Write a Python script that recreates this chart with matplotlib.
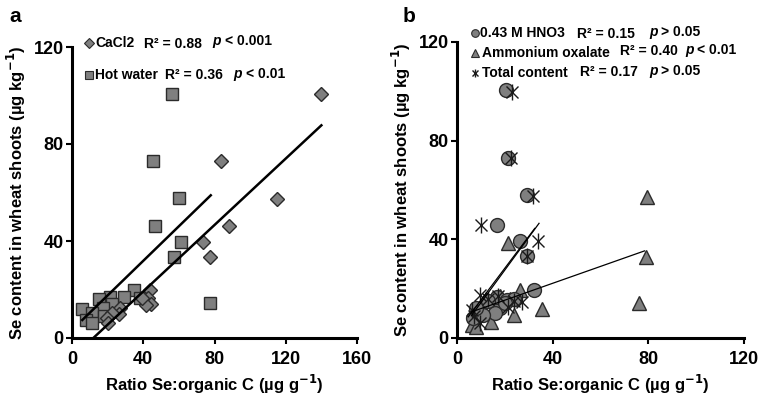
import matplotlib
matplotlib.use("Agg")
import matplotlib.pyplot as plt
import numpy as np

plt.rcParams['font.family'] = ['Liberation Sans', 'DejaVu Sans']
plt.rcParams['font.weight'] = 'bold'
plt.rcParams['mathtext.default'] = 'bf'

# ---------------- Panel a data ----------------
cacl2_x = [139.9, 83.5, 115.3, 88.4, 73.8, 77.7, 43.8, 42.9, 44.4, 41.6, 39.1, 27.0, 26.6, 22.3, 19.5, 20.4]
cacl2_y = [100.7, 73.0, 57.5, 46.0, 39.5, 33.5, 19.8, 16.7, 14.0, 13.6, 16.3, 12.5, 9.7, 10.2, 8.1, 6.0]
hot_x = [56.2, 45.7, 60.3, 46.6, 61.2, 57.3, 77.5, 35.0, 29.4, 21.3, 15.3, 22.3, 17.6, 5.6, 11.2, 18.1, 7.9, 11.4, 38.2]
hot_y = [100.7, 73.0, 57.7, 46.2, 39.4, 33.5, 14.4, 19.8, 17.0, 17.0, 15.9, 13.9, 12.2, 11.8, 10.4, 9.0, 7.4, 6.3, 16.7]
# fitted lines: slope, intercept, x-start, x-end
cacl2_fit = [0.685, -8.2, 12.0, 140.0]
hot_fit = [0.713, 3.3, 5.8, 77.9]

# ---------------- Panel b data ----------------
hno3_x = [20.4, 21.2, 29.2, 16.9, 26.4, 29.4, 32.3, 18.0, 15.9, 6.8, 11.0, 16.8, 21.0, 24.0, 13.0, 8.0, 20.0]
hno3_y = [100.4, 72.8, 57.9, 46.0, 39.3, 33.2, 19.4, 12.0, 10.0, 8.0, 9.3, 16.5, 15.5, 16.0, 15.0, 12.0, 14.0]
oxa_x = [79.4, 79.1, 76.2, 35.4, 21.5, 26.4, 23.8, 14.1, 6.1, 7.9, 18.0, 12.0, 22.0, 10.0]
oxa_y = [57.2, 32.9, 14.0, 11.7, 38.7, 19.4, 9.3, 6.6, 5.3, 4.6, 17.0, 16.0, 16.0, 13.0]
tot_x = [22.9, 22.6, 31.9, 10.0, 34.0, 29.4, 9.6, 27.3, 21.5, 6.1, 9.6, 13.0, 17.0, 24.0, 7.0]
tot_y = [99.7, 72.8, 57.6, 46.0, 39.3, 33.2, 17.4, 14.7, 12.7, 11.3, 6.0, 16.0, 17.0, 15.0, 9.0]
hno3_fit = [1.29, 2.5, 4.7, 32.5]
tot_fit = [1.325, 1.05, 6.0, 34.3]
oxa_fit = [0.342, 8.5, 6.0, 78.4]

xticks_a = [0, 40, 80, 120, 160]
xticks_b = [0, 40, 80, 120]
yticks = [0, 40, 80, 120]

W, H = 760, 397
fig = plt.figure(figsize=(W / 100, H / 100), dpi=100)

def fx(px):
    return px / W

def fy(py):
    return 1 - py / H

ax_a = fig.add_axes([fx(72), fy(338), (357 - 72) / W, (338 - 47) / H])
ax_b = fig.add_axes([fx(457), fy(338), (744 - 457) / W, (338 - 42) / H])

fill = '#7f7f7f'
edge = '#2b2b2b'

def style(ax, xt, xmax):
    ax.set_xlim(0, xmax)
    ax.set_ylim(0, 120)
    ax.set_xticks(xt)
    ax.set_yticks(yticks)
    for s in ['top', 'right']:
        ax.spines[s].set_visible(False)
    for s in ['left', 'bottom']:
        ax.spines[s].set_linewidth(2.2)
        ax.spines[s].set_color('black')
    ax.tick_params(direction='out', length=4, width=1.5, labelsize=13, pad=2)
    ax.tick_params(axis='x', pad=5)
    for lab in ax.get_xticklabels() + ax.get_yticklabels():
        lab.set_fontweight('bold')
    ax.set_xlabel('Ratio Se:organic C (µg g$^{\\mathbf{-1}}$)', fontsize=12, fontweight='bold', labelpad=4)
    ax.set_ylabel('Se content in wheat shoots (µg kg$^{\\mathbf{-1}}$)', fontsize=12, fontweight='bold', labelpad=4)

style(ax_a, xticks_a, 160)
style(ax_b, xticks_b, 120)

# Panel a
ax_a.plot(hot_x, hot_y, 's', ms=8.5, mfc=fill, mec=edge, mew=1.0, clip_on=False, zorder=3)
ax_a.plot(cacl2_x, cacl2_y, 'D', ms=7.5, mfc=fill, mec=edge, mew=1.0, clip_on=False, zorder=3)
for f in (cacl2_fit, hot_fit):
    xs = np.array([f[2], f[3]])
    ax_a.plot(xs, f[0] * xs + f[1], '-', color='black', lw=1.8, zorder=4)

# Panel b
ax_b.plot(oxa_x, oxa_y, '^', ms=10, mfc=fill, mec=edge, mew=1.0, clip_on=False, zorder=3)
ax_b.plot(hno3_x, hno3_y, 'o', ms=10, mfc=fill, mec=edge, mew=1.0, clip_on=False, zorder=3)
ax_b.plot(tot_x, tot_y, 'x', ms=9, mec='#1a1a1a', mew=1.0, clip_on=False, zorder=4)
ax_b.plot(tot_x, tot_y, '|', ms=11, mec='#1a1a1a', mew=1.0, clip_on=False, zorder=4)
for f in (hno3_fit, tot_fit, oxa_fit):
    xs = np.array([f[2], f[3]])
    ax_b.plot(xs, f[0] * xs + f[1], '-', color='black', lw=0.9, zorder=5)

# panel letters
fig.text(fx(9), fy(17), 'a', fontsize=15, fontweight='bold', va='center', ha='left')
fig.text(fx(403), fy(17), 'b', fontsize=15, fontweight='bold', va='center', ha='left')

# legend-like annotations
def leg_marker(px, py, marker, ms):
    if marker == '*':
        fig.lines.append(plt.Line2D([fx(px)], [fy(py)], marker='x', ms=5, mec='#1a1a1a', mew=1.0,
                                    transform=fig.transFigure, ls='none'))
        fig.lines.append(plt.Line2D([fx(px)], [fy(py)], marker='|', ms=6, mec='#1a1a1a', mew=1.0,
                                    transform=fig.transFigure, ls='none'))
    else:
        fig.lines.append(plt.Line2D([fx(px)], [fy(py)], marker=marker, ms=ms, mfc=fill, mec=edge, mew=0.8,
                                    transform=fig.transFigure, ls='none'))

def t(px, py, s, italic=False):
    fig.text(fx(px), fy(py), s, fontsize=10, fontweight='bold', va='center', ha='left',
             style='italic' if italic else 'normal')

leg_marker(89, 43, 'D', 5)
t(95, 43, 'CaCl2')
t(144, 44, 'R² = 0.88')
t(212, 41, 'p', italic=True); t(225, 41, '< 0.001')
leg_marker(89, 75, 's', 5.5)
t(95, 75, 'Hot water')
t(165, 75, 'R² = 0.36')
t(233, 74, 'p', italic=True); t(246, 74, '< 0.01')

leg_marker(475, 33, 'o', 5.5)
t(480, 33, '0.43 M HNO3')
t(577, 34, 'R² = 0.15')
t(649, 32, 'p', italic=True); t(661, 32, '> 0.05')
leg_marker(475, 53, '^', 6)
t(482, 53, 'Ammonium oxalate')
t(620, 51, 'R² = 0.40')
t(685, 50, 'p', italic=True); t(697, 50, '< 0.01')
leg_marker(475, 73, '*', 5)
t(482, 73, 'Total content')
t(580, 72, 'R² = 0.17')
t(649, 71, 'p', italic=True); t(661, 71, '> 0.05')

fig.savefig('out.png', dpi=100)
